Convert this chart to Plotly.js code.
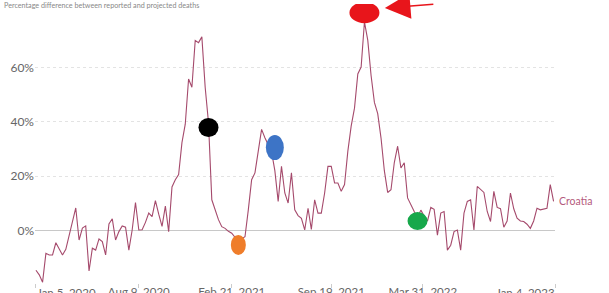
<!DOCTYPE html>
<html><head><meta charset="utf-8">
<script src="https://cdn.plot.ly/plotly-3.0.1.min.js"></script>
<style>html,body{margin:0;padding:0;background:#fff}#chart{width:609px;height:293px}</style>
</head><body><div id="chart"></div>
<script>
const seriesName = "Croatia";
const startDate = "2020-01-05";
const excessPct = [
 -14.6,-16.3,-19.0,-8.4,-9.0,-9.0,-4.5,-6.5,-9.0,-6.9,
 -1.7,3.3,8.3,-3.5,0.9,1.7,-14.9,-6.5,-7.2,-3.1,
 -4.1,-9.0,2.4,4.3,-3.5,-0.4,1.7,1.2,-7.2,0.2,
 10.3,0.2,0.3,3.0,6.4,5.1,11.0,6.0,1.5,9.0,
 -0.4,16.0,18.7,20.6,32.3,39.1,55.7,52.7,69.9,69.1,
 71.2,52.7,39.7,11.3,7.6,4.0,1.4,0.8,-0.3,-1.0,
 -2.5,-3.5,-3.0,-2.3,7.6,18.7,21.2,28.6,37.2,34.1,
 31.5,29.0,22.0,10.7,23.6,13.8,10.1,21.2,7.6,5.5,
 4.5,0.2,8.2,0.4,11.3,6.4,6.4,13.8,23.6,23.6,
 17.5,17.5,14.4,16.9,29.2,38.4,45.0,57.6,60.1,76.7,
 70.0,57.0,47.1,43.0,34.0,22.0,14.0,15.0,25.0,31.0,
 23.0,24.9,12.0,9.4,7.0,5.0,7.5,5.3,3.5,8.5,
 7.8,-1.7,6.4,7.0,-7.2,-5.4,-0.4,0.2,-7.2,6.4,
 10.7,11.3,0.2,16.2,15.0,14.0,7.0,3.3,14.4,8.5,
 8.0,1.2,3.5,13.8,8.0,4.5,3.5,3.3,2.3,0.8,
 3.5,8.2,7.6,8.0,8.2,16.9,10.7
];
const xTickVals = ["2020-01-05","2020-08-09","2021-02-21","2021-09-19","2022-03-31","2023-01-04"];
const xTickText = ["Jan 5, 2020","Aug 9, 2020","Feb 21, 2021","Sep 19, 2021","Mar 31, 2022","Jan 4, 2023"];
const yTickVals = [0,20,40,60];
const yTickText = ["0%","20%","40%","60%"];
const subtitle = "Percentage difference between reported and projected deaths";

// weekly dates
const dates = excessPct.map((v,i)=>{
  const d = new Date(startDate+"T00:00:00Z"); d.setUTCDate(d.getUTCDate()+7*i);
  return d.toISOString().slice(0,10);
});

// highlight markers: [index into data, value, w, h, colour]
const highlights = [
  [52, 37.9, 20, 19, "#000000"],
  [61, -5.3, 15, 20, "#ef7d2a"],
  [72, 30.5, 18, 25, "#3d74c6"],
  [99, 80.1, 30, 21, "#e8151b"],
  [115, 3.5, 20, 18, "#17a84b"]
];

const lineColor = "#a54a6c";
const trace = {
  x: dates, y: excessPct, type: "scatter", mode: "lines",
  line: {color: lineColor, width: 1.1}, hoverinfo: "skip", showlegend: false
};

const shapes = highlights.map(h=>({
  type:"circle", xref:"x", yref:"y",
  xsizemode:"pixel", ysizemode:"pixel",
  xanchor: dates[h[0]], yanchor: h[1],
  x0:-h[2]/2, x1:h[2]/2, y0:-h[3]/2, y1:h[3]/2,
  fillcolor:h[4], line:{width:0}, layer:"above"
}));

const tickFont = {family:"Lato, sans-serif", size:11.5, color:"#666"};
const last = xTickVals.length-1;
const annotations = [
  {x: dates[dates.length-1], y: excessPct[excessPct.length-1], xref:"x", yref:"y",
   text: seriesName, showarrow:false, xanchor:"left", yanchor:"middle", xshift:3,
   font:{family:"Lato, sans-serif", size:10.5, color:"#b45a7c"}},
  {x: "2022-01-10", y: 81.8, xref:"x", yref:"y", ax: 50, ay: -4, text:"",
   showarrow:true, arrowhead:2, arrowsize:3.2, arrowwidth:1.6, arrowcolor:"#e8151b"},
  {x: 0, y: 1, xref:"paper", yref:"paper", xanchor:"left", yanchor:"bottom",
   xshift:-33, yshift:-8, text: subtitle, showarrow:false,
   font:{family:"Lato, sans-serif", size:7.2, color:"#888"}},
  {x: xTickVals[0], y: 0, xref:"x", yref:"paper", xanchor:"left", yanchor:"top",
   yshift:-1, xshift:-1, text: xTickText[0], showarrow:false, font: tickFont},
  {x: xTickVals[last], y: 0, xref:"x", yref:"paper", xanchor:"right", yanchor:"top",
   yshift:-1, xshift:2, text: xTickText[last], showarrow:false, font: tickFont}
];

const layout = {
  width:609, height:293,
  margin:{l:35, r:54, t:4, b:10},
  paper_bgcolor:"#fff", plot_bgcolor:"#fff",
  font:{family:"Lato, sans-serif", color:"#666", size:12},
  xaxis:{type:"date", range:["2020-01-03","2023-01-04"],
    tickvals:xTickVals, ticktext:xTickText.map((t,i)=> (i===0||i===last) ? "" : t),
    ticks:"outside", ticklen:4,
    tickcolor:"#ccc", showgrid:false, showline:false, zeroline:false,
    ticklabelstandoff:-6, tickfont:tickFont},
  yaxis:{range:[-19.3, 83.3], tickvals:yTickVals, ticktext:yTickText,
    showgrid:true, gridcolor:"#e3e3e3", griddash:"dot", gridwidth:1,
    zeroline:true, zerolinecolor:"#c8c8c8", zerolinewidth:1,
    showline:false, ticks:"", tickfont:{size:12, color:"#666"}},
  shapes: shapes, annotations: annotations, showlegend:false
};
Plotly.newPlot("chart", [trace], layout, {displayModeBar:false, staticPlot:true});
</script></body></html>
